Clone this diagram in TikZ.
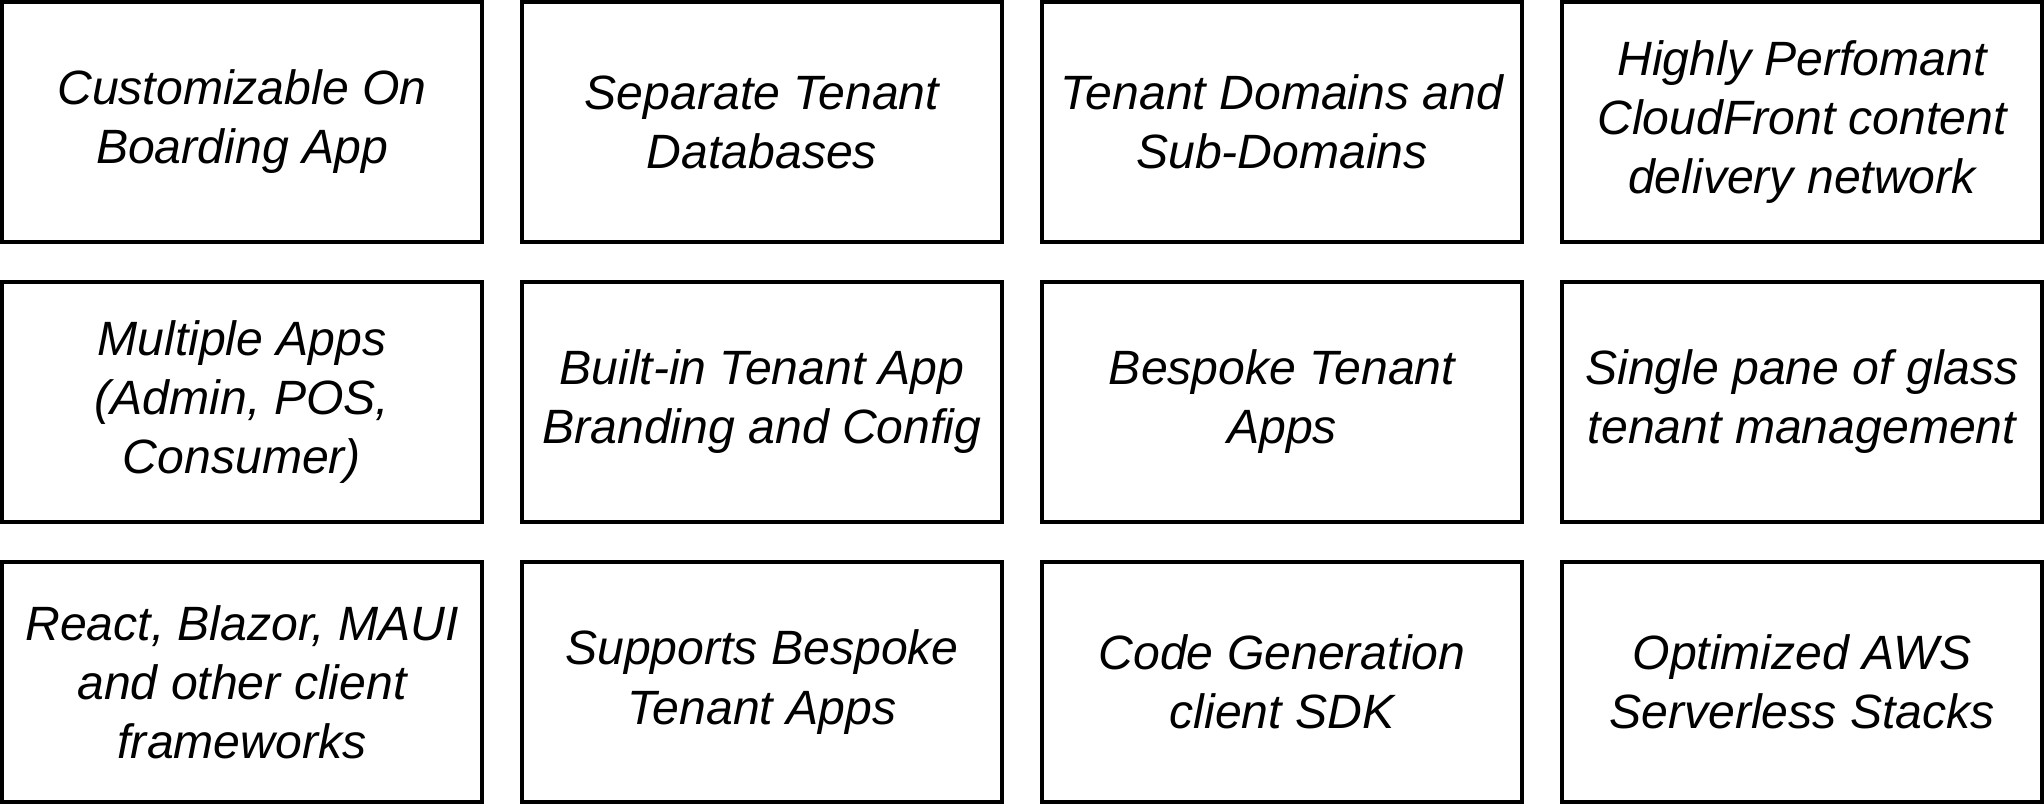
\documentclass[tikz,border=0pt]{standalone}
\usepackage{fontspec}
\setmainfont{Liberation Sans}
\begin{document}
\begin{tikzpicture}[x=1cm,y=1cm,
  card/.style={draw=black, line width=0.04cm, rectangle, minimum width=4.8cm, minimum height=2.4cm,
    align=center, inner sep=0pt, font=\fontsize{13.7pt}{16.8pt}\selectfont\itshape}]
\useasboundingbox (0,0) rectangle (20.44,-8.04);
\node[card] (a1) at (2.42,-1.22) {Customizable On\\Boarding App};
\node[card] (a2) at (7.62,-1.22) {Separate Tenant\\Databases};
\node[card] (a3) at (12.82,-1.22) {Tenant Domains and\\Sub-Domains};
\node[card] (a4) at (18.02,-1.22) {Highly Perfomant\\CloudFront content\\delivery network};
\node[card] (b1) at (2.42,-4.02) {Multiple Apps\\(Admin, POS,\\Consumer)};
\node[card] (b2) at (7.62,-4.02) {Built-in Tenant App\\Branding and Config};
\node[card] (b3) at (12.82,-4.02) {Bespoke Tenant\\Apps};
\node[card] (b4) at (18.02,-4.02) {Single pane of glass\\tenant management};
\node[card] (c1) at (2.42,-6.82) {React, Blazor, MAUI\\and other client\\frameworks};
\node[card] (c2) at (7.62,-6.82) {Supports Bespoke\\Tenant Apps};
\node[card] (c3) at (12.82,-6.82) {Code Generation\\client SDK};
\node[card] (c4) at (18.02,-6.82) {Optimized AWS\\Serverless Stacks};
\end{tikzpicture}
\end{document}
